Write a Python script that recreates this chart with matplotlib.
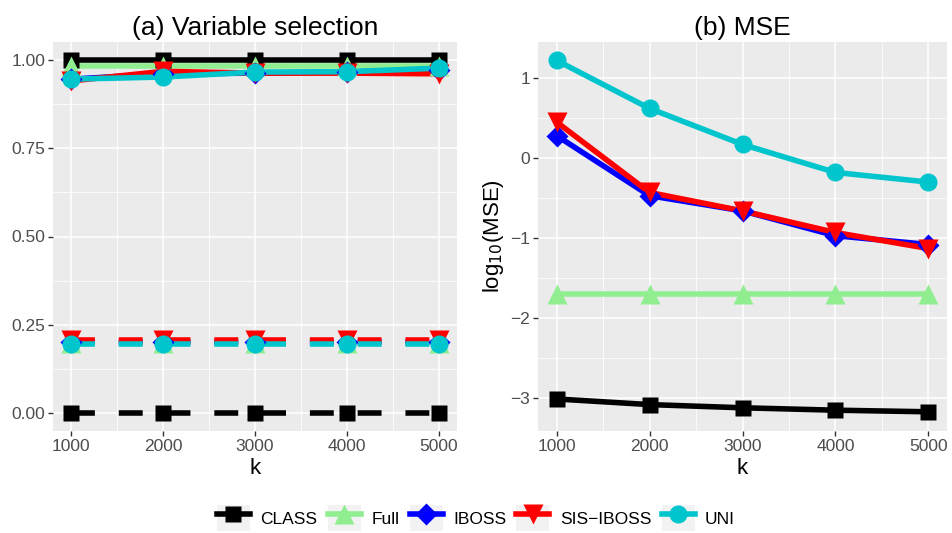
import matplotlib.pyplot as plt
from matplotlib.lines import Line2D
from matplotlib.patches import Patch
from matplotlib.legend_handler import HandlerTuple
from matplotlib.ticker import MultipleLocator

plt.rcParams['font.family'] = ['Liberation Sans', 'DejaVu Sans']

# data
k = [1000, 2000, 3000, 4000, 5000]
methods = ['CLASS', 'Full', 'IBOSS', 'SIS-IBOSS', 'UNI']

# (a) variable selection: solid = true positive rate, dashed = false positive rate
tpr_class = [1.0, 1.0, 1.0, 1.0, 1.0]
tpr_full = [0.983, 0.983, 0.983, 0.983, 0.983]
tpr_iboss = [0.945, 0.960, 0.962, 0.965, 0.972]
tpr_sis = [0.940, 0.967, 0.962, 0.962, 0.960]
tpr_uni = [0.945, 0.951, 0.965, 0.966, 0.976]

fpr_class = [0.0, 0.0, 0.0, 0.0, 0.0]
fpr_full = [0.200, 0.200, 0.200, 0.200, 0.200]
fpr_iboss = [0.203, 0.203, 0.203, 0.203, 0.203]
fpr_sis = [0.207, 0.207, 0.207, 0.207, 0.207]
fpr_uni = [0.197, 0.197, 0.197, 0.197, 0.197]

# (b) log10(MSE)
mse_class = [-3.01, -3.08, -3.12, -3.15, -3.17]
mse_full = [-1.70, -1.70, -1.70, -1.70, -1.70]
mse_iboss = [0.28, -0.47, -0.66, -0.97, -1.08]
mse_sis = [0.45, -0.43, -0.66, -0.93, -1.13]
mse_uni = [1.22, 0.62, 0.17, -0.18, -0.30]

colors = {'CLASS': 'black', 'Full': '#90EE90', 'IBOSS': '#0000FF',
          'SIS-IBOSS': '#FF0000', 'UNI': '#00C5CD'}
markers = {'CLASS': 's', 'Full': '^', 'IBOSS': 'D', 'SIS-IBOSS': 'v', 'UNI': 'o'}
msizes = {'CLASS': 12, 'Full': 14, 'IBOSS': 11, 'SIS-IBOSS': 14, 'UNI': 13}

tpr = dict(zip(methods, [tpr_class, tpr_full, tpr_iboss, tpr_sis, tpr_uni]))
fpr = dict(zip(methods, [fpr_class, fpr_full, fpr_iboss, fpr_sis, fpr_uni]))
mse = dict(zip(methods, [mse_class, mse_full, mse_iboss, mse_sis, mse_uni]))

W, H = 952, 533
fig = plt.figure(figsize=(W / 100, H / 100), dpi=100)
ax1 = fig.add_axes([53 / W, 102 / H, 404 / W, 389 / H])
ax2 = fig.add_axes([538 / W, 102 / H, 409 / W, 389 / H])

LW = 4
dash = (0, (4.3, 4.3))


def style_axes(ax):
    ax.set_facecolor('#EBEBEB')
    for s in ax.spines.values():
        s.set_visible(False)
    ax.grid(True, which='major', color='white', linewidth=1.1)
    ax.grid(True, which='minor', color='white', linewidth=0.55)
    ax.set_axisbelow(True)
    ax.tick_params(which='major', length=3.5, width=1, color='#333333',
                   labelcolor='#4D4D4D', labelsize=12.5, pad=2)
    ax.tick_params(which='minor', length=0)
    ax.set_xlim(800, 5200)
    ax.set_xticks(k)
    ax.xaxis.set_minor_locator(MultipleLocator(500))
    ax.set_xlabel('k', fontsize=16, labelpad=3)


# lines first, points on top (like ggplot layers)
for m in methods:
    ax1.plot(k, tpr[m], color=colors[m], lw=LW, zorder=2, solid_capstyle='butt')
    ax1.plot(k, fpr[m], color=colors[m], lw=LW, ls=dash, zorder=2, dash_capstyle='butt')
for m in methods:
    ax1.plot(k, tpr[m], ls='none', marker=markers[m], ms=msizes[m],
             color=colors[m], mec='none', zorder=3)
    ax1.plot(k, fpr[m], ls='none', marker=markers[m], ms=msizes[m],
             color=colors[m], mec='none', zorder=3)

style_axes(ax1)
ax1.set_ylim(-0.05, 1.05)
ax1.set_yticks([0, 0.25, 0.5, 0.75, 1.0])
ax1.set_yticklabels(['0.00', '0.25', '0.50', '0.75', '1.00'])
ax1.yaxis.set_minor_locator(MultipleLocator(0.125))
ax1.set_title('(a) Variable selection', fontsize=19, pad=5)

for m in methods:
    ax2.plot(k, mse[m], color=colors[m], lw=LW, zorder=2, solid_capstyle='butt')
for m in methods:
    ax2.plot(k, mse[m], ls='none', marker=markers[m], ms=msizes[m],
             color=colors[m], mec='none', zorder=3)

style_axes(ax2)
ax2.set_ylim(-3.41, 1.45)
ax2.set_yticks([-3, -2, -1, 0, 1])
ax2.set_yticklabels(['\u22123', '\u22122', '\u22121', '0', '1'])
ax2.yaxis.set_minor_locator(MultipleLocator(0.5))
ax2.set_ylabel(r'log$_{10}$(MSE)', fontsize=16, labelpad=3)
ax2.set_title('(b) MSE', fontsize=19, pad=5)

handles = []
for m in methods:
    bg = Patch(facecolor='#F2F2F2', edgecolor='none')
    ln = Line2D([], [], color=colors[m], lw=LW, marker=markers[m],
                ms=msizes[m], mec='none')
    handles.append((bg, ln))
fig.legend(handles, ['CLASS', 'Full', 'IBOSS', 'SIS\u2212IBOSS', 'UNI'],
           handler_map={tuple: HandlerTuple(ndivide=1, pad=0)},
           loc='center', bbox_to_anchor=(0.5, 15 / H), ncol=5, frameon=False,
           fontsize=12.5, handlelength=1.9, handleheight=1.9,
           handletextpad=0.6, columnspacing=0.6)

fig.savefig('out.png', dpi=100)
